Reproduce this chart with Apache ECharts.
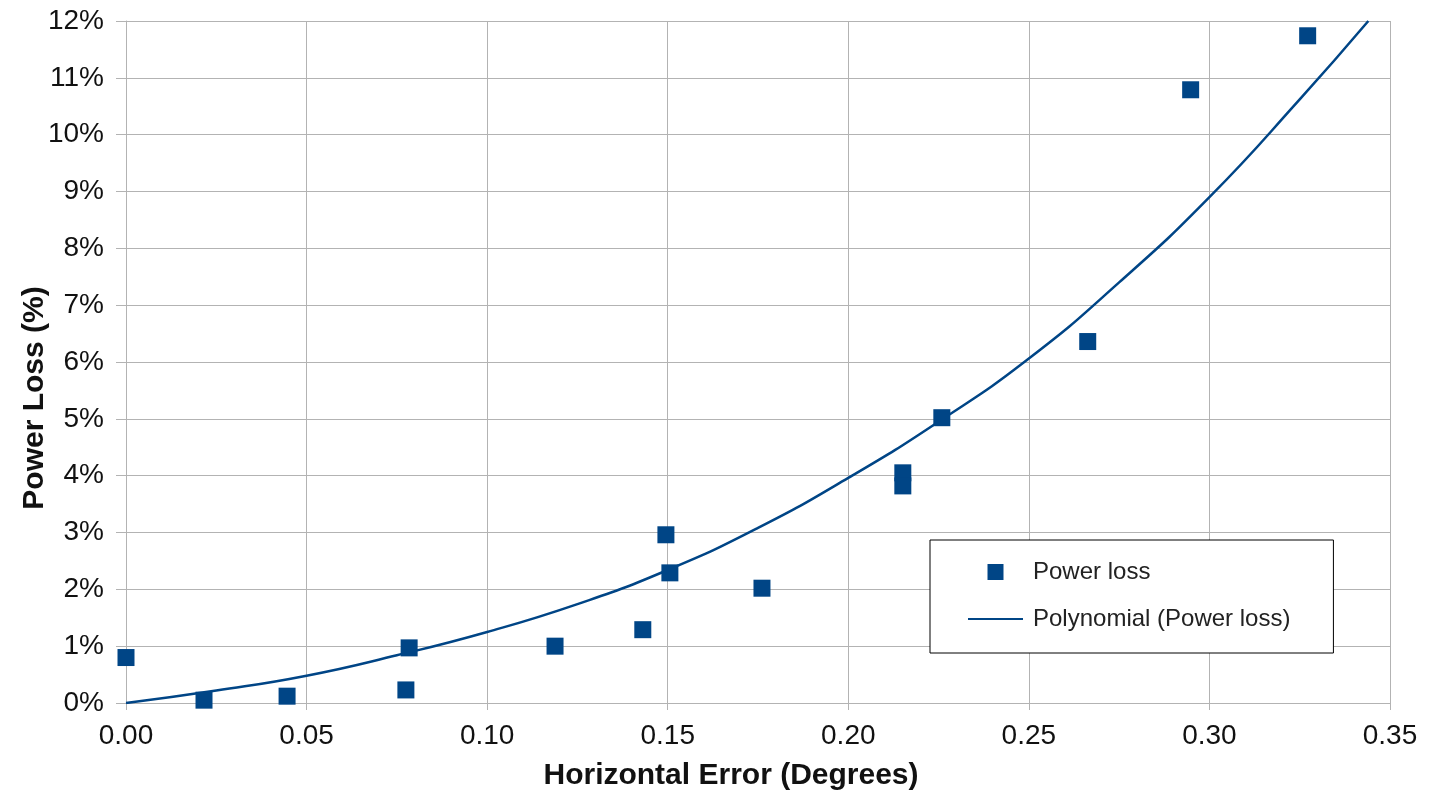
<!DOCTYPE html>
<html>
<head>
<meta charset="utf-8">
<script src="https://cdn.jsdelivr.net/npm/echarts@6/dist/echarts.min.js"></script>
<style>
html,body{margin:0;padding:0;background:#fff;}
#chart{width:1448px;height:792px;}
</style>
</head>
<body>
<div id="chart"></div>
<script>
// Measured points (x = horizontal error in degrees, y = power loss in %)
const errorDeg = [0.000, 0.0216, 0.0446, 0.0775, 0.0784, 0.1188, 0.1431, 0.1495, 0.1506, 0.1761, 0.2151, 0.2151, 0.2259, 0.2663, 0.2948, 0.3272];
const powerLoss = [0.80, 0.05, 0.12, 0.23, 0.97, 1.00, 1.29, 2.96, 2.29, 2.02, 4.05, 3.82, 5.02, 6.36, 10.79, 11.74];

// Trend line
const trendX = [0, 0.025, 0.05, 0.075, 0.10, 0.125, 0.15, 0.175, 0.20, 0.225, 0.25, 0.275, 0.30, 0.325, 0.344];
const trendY = [0, 0.22, 0.48, 0.84, 1.25, 1.74, 2.34, 3.08, 3.96, 4.95, 6.06, 7.40, 8.90, 10.62, 12.0];

const xTicks = ['0.00','0.05','0.10','0.15','0.20','0.25','0.30','0.35'];
const yTicks = ['0%','1%','2%','3%','4%','5%','6%','7%','8%','9%','10%','11%','12%'];

const seriesNames = ['Power loss', 'Polynomial (Power loss)'];

const scatterData = errorDeg.map((x, i) => [x, powerLoss[i]]);
const trendData = trendX.map((x, i) => [x, trendY[i]]);

const FONT = 'Liberation Sans, Arial, sans-serif';
const BLUE = '#004586';
const GRID = '#b3b3b3';

const chart = echarts.init(document.getElementById('chart'), null, {renderer: 'canvas'});
chart.setOption({
  animation: false,
  backgroundColor: '#fff',
  grid: {left: 126, right: 58, top: 21, bottom: 89, containLabel: false, outerBoundsMode: 'none'},
  xAxis: {
    type: 'value', min: 0, max: 0.35, interval: 0.05,
    name: 'Horizontal Error (Degrees)',
    nameLocation: 'middle', nameGap: 58, nameMoveOverlap: false,
    nameTextStyle: {fontFamily: FONT, fontSize: 30, fontWeight: 'bold', color: '#111', padding: [0, 54, 0, 0]},
    axisLine: {show: true, lineStyle: {color: GRID, width: 1}},
    axisTick: {show: true, length: 7, lineStyle: {color: GRID}},
    splitLine: {show: true, lineStyle: {color: GRID, width: 1}},
    axisLabel: {fontFamily: FONT, fontSize: 28, color: '#111', margin: 19,
      formatter: v => xTicks[Math.round(v / 0.05)]}
  },
  yAxis: {
    type: 'value', min: 0, max: 12, interval: 1,
    name: 'Power Loss (%)',
    nameLocation: 'middle', nameGap: 76, nameRotate: 90, nameMoveOverlap: false,
    nameTextStyle: {fontFamily: FONT, fontSize: 30, fontWeight: 'bold', color: '#111', padding: [0, 72, 0, 0]},
    axisLine: {show: true, lineStyle: {color: GRID, width: 1}},
    axisTick: {show: true, length: 10, lineStyle: {color: GRID}},
    splitLine: {show: true, lineStyle: {color: GRID, width: 1}},
    axisLabel: {fontFamily: FONT, fontSize: 28, color: '#111', margin: 22,
      formatter: v => yTicks[Math.round(v)]}
  },
  legend: {
    orient: 'vertical', left: 930, top: 540,
    padding: [20, 43, 22, 38],
    itemWidth: 55, itemHeight: 16, itemGap: 23,
    symbolKeepAspect: true,
    borderColor: '#000', borderWidth: 1, backgroundColor: '#fff',
    textStyle: {fontFamily: FONT, fontSize: 24, color: '#222', lineHeight: 24, padding: [0, 0, 0, 5]},
    data: [
      {name: seriesNames[0], icon: 'path://M0,0L16,0L16,16L0,16Z'},
      {name: seriesNames[1], icon: 'path://M0,0L55,0L55,2L0,2Z'}
    ]
  },
  series: [
    {
      name: seriesNames[0], type: 'scatter', symbol: 'rect', symbolSize: 17,
      itemStyle: {color: BLUE, opacity: 1}, data: scatterData, z: 3
    },
    {
      name: seriesNames[1], type: 'line', smooth: true, showSymbol: false, symbol: 'none',
      lineStyle: {color: BLUE, width: 2.5}, itemStyle: {color: BLUE}, data: trendData, z: 2
    }
  ]
});
</script>
</body>
</html>
